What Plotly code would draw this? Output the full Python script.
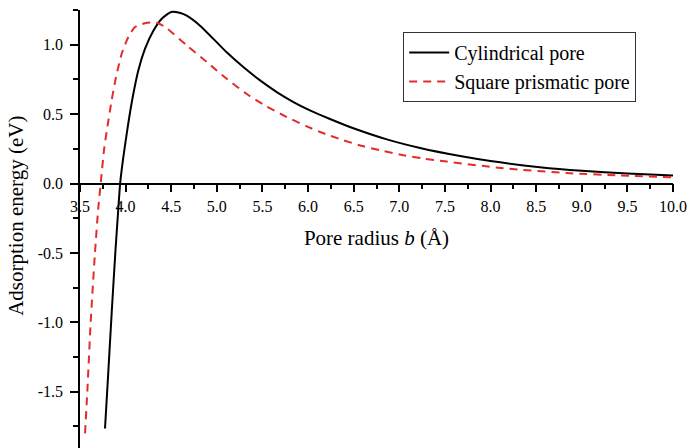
import numpy as np
import plotly.graph_objects as go

# Cylindrical pore (black solid)
cyl_b = [3.774, 3.81, 3.85, 3.89, 3.915, 3.94, 3.975, 4.023, 4.078, 4.139, 4.213, 4.304, 4.396, 4.50,
         4.60, 4.67, 4.816, 4.962, 5.108, 5.29, 5.474, 5.657, 5.84, 6.02, 6.24, 6.497, 6.863, 7.228,
         7.667, 8.0, 8.54, 9.0, 9.5, 10.0]
cyl_E = [-1.765, -1.36, -0.9, -0.47, -0.23, 0.0, 0.19, 0.407, 0.623, 0.815, 0.971, 1.10, 1.187, 1.236,
         1.228, 1.209, 1.137, 1.042, 0.945, 0.839, 0.743, 0.659, 0.587, 0.527, 0.465, 0.398, 0.318, 0.256,
         0.198, 0.162, 0.118, 0.092, 0.073, 0.058]

# Square prismatic pore (red dashed)
sq_b = [3.555, 3.58, 3.617, 3.664, 3.70, 3.727, 3.763, 3.80, 3.847, 3.895, 3.957, 4.03, 4.103, 4.213,
        4.30, 4.36, 4.457, 4.67, 4.89, 5.108, 5.328, 5.547, 5.767, 5.986, 6.132, 6.387, 6.607, 6.826,
        7.045, 7.264, 7.52, 8.14, 8.84, 9.42, 10.0]
sq_E = [-1.80, -1.5, -1.0, -0.5, -0.18, 0.0, 0.24, 0.407, 0.60, 0.767, 0.935, 1.055, 1.127, 1.155,
        1.16, 1.155, 1.115, 0.995, 0.875, 0.755, 0.645, 0.555, 0.479, 0.412, 0.371, 0.312, 0.268, 0.235,
        0.204, 0.18, 0.158, 0.11, 0.075, 0.058, 0.044]

x_ticks = [3.5, 4.0, 4.5, 5.0, 5.5, 6.0, 6.5, 7.0, 7.5, 8.0, 8.5, 9.0, 9.5, 10.0]
x_ticktext = ["3.5", "4.0", "4.5", "5.0", "5.5", "6.0", "6.5", "7.0", "7.5", "8.0", "8.5", "9.0", "9.5", "10.0"]
y_ticks = [-1.5, -1.0, -0.5, 0.0, 0.5, 1.0]
y_ticktext = ["-1.5", "-1.0", "-0.5", "0.0", "0.5", "1.0"]

x_title = "Pore radius <i>b</i> (Å)"
y_title = "Adsorption energy (eV)"

x_range = [3.5, 10.0]
y_range = [-1.905, 1.25]

FONT = "Liberation Serif, Times New Roman, serif"
RED = "#E32B2B"

fig = go.Figure()
fig.add_trace(go.Scatter(x=cyl_b, y=cyl_E, mode="lines", name="Cylindrical pore",
                         line=dict(color="black", width=2, shape="spline", smoothing=0.6)))
fig.add_trace(go.Scatter(x=sq_b, y=sq_E, mode="lines", name="Square prismatic pore",
                         line=dict(color=RED, width=2, dash="8px,6px", shape="spline", smoothing=0.6)))

x_pos = (0 - y_range[0]) / (y_range[1] - y_range[0])

x_minor = [float(v) for v in np.arange(3.75, 10.0, 0.5)]
y_minor = [float(v) for v in np.arange(-1.75, 1.26, 0.5)]

fig.update_layout(
    width=687, height=448,
    margin=dict(l=80, r=14, t=10, b=0),
    plot_bgcolor="white", paper_bgcolor="white",
    font=dict(family=FONT, size=16, color="black"),
    showlegend=True,
    legend=dict(x=0.545, y=0.87, xanchor="left", yanchor="middle",
                bordercolor="#333333", borderwidth=1, bgcolor="white",
                font=dict(family=FONT, size=20, color="black"),
                tracegroupgap=0, itemwidth=40),
    xaxis=dict(range=x_range, anchor="free", position=x_pos, side="bottom", automargin=False,
               showline=True, linecolor="black", linewidth=1.5, showgrid=False, zeroline=False,
               tickmode="array", tickvals=x_ticks, ticktext=x_ticktext,
               ticks="outside", ticklen=8, tickwidth=1.5, tickcolor="black",
               ticklabelstandoff=1, ticklabeloverflow="allow",
               tickfont=dict(family=FONT, size=16, color="black"),
               minor=dict(tickmode="array", tickvals=x_minor, ticks="outside", ticklen=5,
                          tickwidth=1.5, tickcolor="black", showgrid=False),
               title=dict(text=x_title, font=dict(family=FONT, size=21, color="black"),
                          standoff=15)),
    yaxis=dict(range=y_range, automargin=False, showline=True, linecolor="black", linewidth=1.5,
               showgrid=False, zeroline=False, tickmode="array", tickvals=y_ticks, ticktext=y_ticktext,
               ticks="outside", ticklen=8, tickwidth=1.5, tickcolor="black",
               ticklabelstandoff=4,
               tickfont=dict(family=FONT, size=16, color="black"),
               minor=dict(tickmode="array", tickvals=y_minor, ticks="outside", ticklen=5,
                          tickwidth=1.5, tickcolor="black", showgrid=False)),
    annotations=[dict(text=y_title, xref="paper", yref="paper", x=-0.108, y=0.53,
                      xanchor="center", yanchor="middle", textangle=-90, showarrow=False,
                      font=dict(family=FONT, size=21, color="black"))],
)

# remove the default page margin so the figure fills the 687x448 window exactly
fig.write_html("out.html", config={"displayModeBar": False},
               post_script="document.body.style.margin='0';document.body.style.overflow='hidden';")
